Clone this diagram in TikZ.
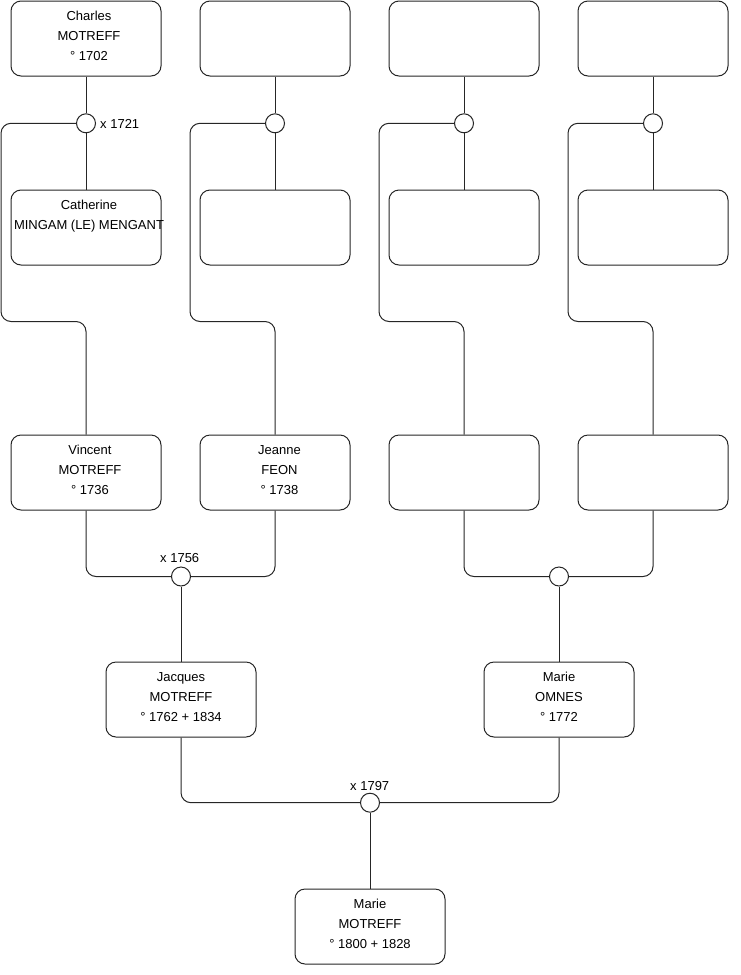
\documentclass[tikz,border=0pt]{standalone}
\usepackage{fontspec}
\setmainfont{Liberation Sans}
\newcommand{\famtxt}[2][0pt]{\makebox[150pt][c]{\hspace*{#1}\parbox[c][75pt][t]{150pt}{\centering\fontsize{13}{20}\selectfont\rule{0pt}{19pt}#2}}}
\tikzset{
  person/.style={draw=black!85, line width=1pt, rounded corners=10pt, fill=white,
    minimum width=150pt, minimum height=75pt, inner sep=0pt},
  wed/.style={draw=black!85, line width=1pt, circle, fill=white, minimum size=19pt, inner sep=0pt},
  link/.style={draw=black!85, line width=1pt, rounded corners=10pt},
  lbl/.style={font=\fontsize{13}{16}\selectfont, inner sep=0pt, anchor=base west}
}
\begin{document}
\begin{tikzpicture}[x=1pt,y=-1pt]
\useasboundingbox (0,0) rectangle (740,975);
% row 1
\node[person] (a1) at (86,38.5) {\famtxt[6pt]{Charles\\MOTREFF\\° 1702}};
\node[person] (a2) at (275,38.5) {\famtxt{}};
\node[person] (a3) at (464,38.5) {\famtxt{}};
\node[person] (a4) at (653,38.5) {\famtxt{}};
% row 2
\node[person] (b1) at (86,227.5) {\famtxt[6pt]{Catherine\\MINGAM (LE) MENGANT}};
\node[person] (b2) at (275,227.5) {\famtxt{}};
\node[person] (b3) at (464,227.5) {\famtxt{}};
\node[person] (b4) at (653,227.5) {\famtxt{}};
% row 3
\node[person] (c1) at (86,472.5) {\famtxt[8pt]{Vincent\\MOTREFF\\° 1736}};
\node[person] (c2) at (275,472.5) {\famtxt[9pt]{Jeanne\\FEON\\° 1738}};
\node[person] (c3) at (464,472.5) {\famtxt{}};
\node[person] (c4) at (653,472.5) {\famtxt{}};
% row 4
\node[person] (d1) at (181,699.5) {\famtxt{Jacques\\MOTREFF\\° 1762 + 1834}};
\node[person] (d2) at (559,699.5) {\famtxt{Marie\\OMNES\\° 1772}};
% row 5
\node[person] (e1) at (370,926.5) {\famtxt{Marie\\MOTREFF\\° 1800 + 1828}};
% marriage circles
\node[wed] (m1) at (86,123.3) {};
\node[wed] (m2) at (275,123.3) {};
\node[wed] (m3) at (464,123.3) {};
\node[wed] (m4) at (653,123.3) {};
\node[wed] (m5) at (181,576.5) {};
\node[wed] (m6) at (559,576.5) {};
\node[wed] (m7) at (370,802.7) {};
% waypoints
\coordinate (k1) at (1,321.5);
\coordinate (k2) at (190,321.5);
\coordinate (k3) at (379,321.5);
\coordinate (k4) at (568,321.5);
% connectors, top generation
\foreach \i in {1,2,3,4}{
  \draw[link] (a\i.south) -- (m\i.north);
  \draw[link] (m\i.south) -- (b\i.north);
  \draw[link] (m\i.west) -| (k\i) -| (c\i.north);
}
% marriages
\draw[link] (c1.south) |- (m5.west);
\draw[link] (c2.south) |- (m5.east);
\draw[link] (m5.south) -- (d1.north);
\draw[link] (c3.south) |- (m6.west);
\draw[link] (c4.south) |- (m6.east);
\draw[link] (m6.south) -- (d2.north);
\draw[link] (d1.south) |- (m7.west);
\draw[link] (d2.south) |- (m7.east);
\draw[link] (m7.south) -- (e1.north);
% labels
\node[lbl] (l1) at (100,128.5) {x 1721};
\node[lbl] (l2) at (160,562.5) {x 1756};
\node[lbl] (l3) at (350,790.5) {x 1797};
\end{tikzpicture}
\end{document}
